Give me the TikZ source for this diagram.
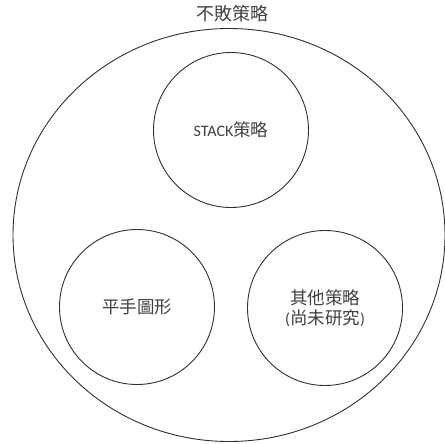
\documentclass[tikz,border=0pt]{standalone}
\usepackage{fontspec}
\setmainfont{Carlito}
\newfontfamily\cjk{Noto Sans CJK TC}
\usetikzlibrary{shapes.geometric}
\definecolor{linec}{HTML}{303030}
\definecolor{textc}{HTML}{404040}
\tikzset{
  setcircle/.style={circle, draw=linec, line width=0.9pt, minimum size=155pt, inner sep=0pt, align=center, text=textc, font=\fontsize{16}{20}\selectfont},
  outer/.style={ellipse, draw=linec, line width=0.9pt, minimum width=432pt, minimum height=413pt, inner sep=0pt},
  lbl/.style={text=textc, font=\cjk\fontsize{18}{20}\selectfont, inner sep=0pt}
}
\newcommand{\cj}[1]{{\cjk\fontsize{17.5}{20}\selectfont #1}}
\begin{document}
\begin{tikzpicture}[x=1pt,y=-1pt]
\fill[white] (0,0) rectangle (444,444);
\useasboundingbox (0,0) rectangle (444,444);
\node[outer] (all) at (229,235) {};
\node[lbl] (title) at (232,14) {不敗策略};
\node[setcircle] (stack) at (231,130) {STACK\cj{策略}};
\node[setcircle] (draw) at (137,307) {\cj{平手圖形}};
\node[setcircle] (other) at (325,308) {\cj{其他策略}\\(\cj{尚未研究})};
\end{tikzpicture}
\end{document}
